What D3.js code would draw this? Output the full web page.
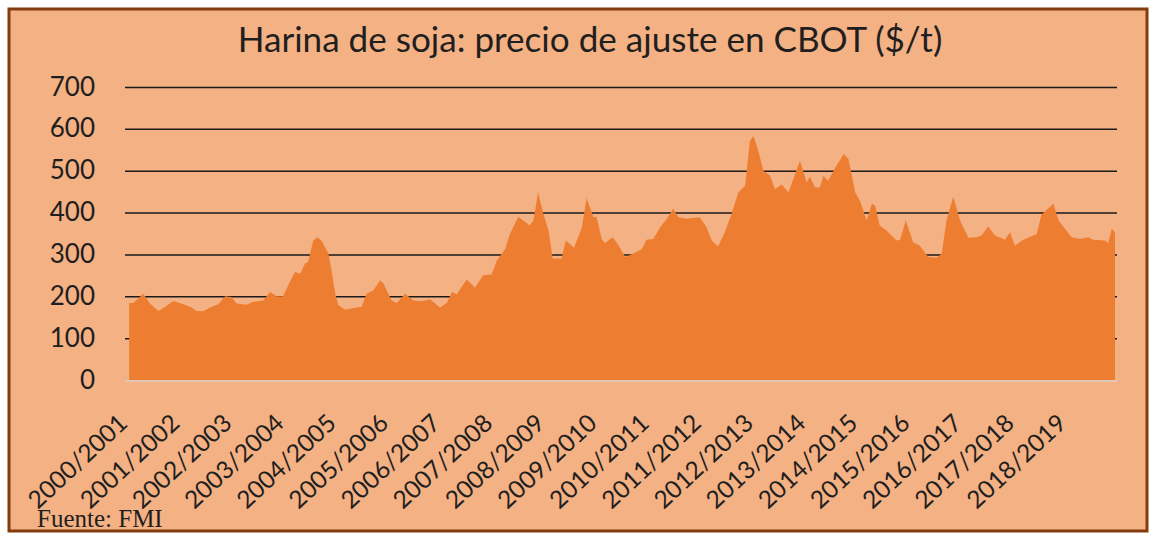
<!DOCTYPE html>
<html>
<head>
<meta charset="utf-8">
<script src="https://cdn.jsdelivr.net/npm/d3@7"></script>
<style>
  body { margin: 0; background: #ffffff; }
</style>
</head>
<body>
<div id="chart_container"></div>
<script>
// Data
var campaigns = ["2000/2001", "2001/2002", "2002/2003", "2003/2004", "2004/2005", "2005/2006",
    "2006/2007", "2007/2008", "2008/2009", "2009/2010", "2010/2011", "2011/2012", "2012/2013",
    "2013/2014", "2014/2015", "2015/2016", "2016/2017", "2017/2018", "2018/2019"];

// time in campaign-years since start of 2000/2001
var t_data = [0.08, 0.16, 0.35, 0.48, 0.64, 0.77, 0.93, 1.12, 1.28, 1.37, 1.50, 1.63, 1.79, 1.92,
    2.04, 2.14, 2.33, 2.46, 2.65, 2.78, 2.91, 3.03, 3.16, 3.26, 3.36, 3.45, 3.51, 3.61, 3.69, 3.77,
    3.90, 3.96, 4.03, 4.09, 4.22, 4.38, 4.54, 4.63, 4.76, 4.89, 4.95, 5.11, 5.21, 5.37, 5.53, 5.69,
    5.85, 6.04, 6.17, 6.27, 6.36, 6.55, 6.71, 6.87, 7.03, 7.13, 7.29, 7.38, 7.54, 7.76, 7.83, 7.92,
    8.02, 8.12, 8.20, 8.37, 8.45, 8.61, 8.76, 8.85, 8.98, 9.04, 9.14, 9.20, 9.35, 9.46, 9.59, 9.75,
    9.91, 10.00, 10.13, 10.26, 10.39, 10.51, 10.61, 10.77, 11.02, 11.15, 11.25, 11.37, 11.50, 11.63,
    11.76, 11.89, 11.98, 12.05, 12.14, 12.24, 12.37, 12.46, 12.59, 12.72, 12.94, 13.07, 13.13, 13.23,
    13.32, 13.39, 13.48, 13.64, 13.78, 13.87, 14.00, 14.09, 14.22, 14.32, 14.38, 14.47, 14.60, 14.79,
    14.86, 14.97, 15.11, 15.24, 15.40, 15.56, 15.66, 15.75, 15.88, 16.01, 16.17, 16.33, 16.42, 16.55,
    16.68, 16.87, 16.97, 17.06, 17.22, 17.48, 17.57, 17.80, 17.90, 18.15, 18.31, 18.47, 18.56, 18.79,
    18.85, 18.92, 18.98];

var price_data = [184, 184, 206, 183, 165, 175, 189, 181, 173, 165, 164, 173, 181, 200,
    198, 183, 180, 187, 190, 210, 200, 200, 234, 258, 254, 278, 282, 333, 341, 332,
    302, 262, 206, 179, 168, 172, 175, 206, 214, 238, 232, 190, 184, 206, 190, 188,
    193, 173, 184, 210, 205, 240, 221, 250, 252, 286, 313, 349, 390, 369, 381, 448,
    397, 357, 290, 290, 333, 316, 365, 435, 389, 390, 337, 327, 341, 322, 294, 302,
    313, 335, 337, 365, 385, 409, 389, 385, 389, 365, 333, 319, 353, 397,
    448, 464, 571, 583, 548, 500, 488, 456, 467, 448, 524, 472, 486, 460,
    460, 488, 476, 512, 540, 528, 448, 429, 381, 421, 417, 369, 357, 333,
    335, 381, 329, 321, 294, 292, 302, 381, 438, 381, 340, 341, 345, 367,
    345, 335, 353, 321, 335, 349, 395, 421, 381, 341, 337, 341, 335, 333,
    327, 362, 352];

var y_ticks = [0, 100, 200, 300, 400, 500, 600, 700];

var title = "Harina de soja: precio de ajuste en CBOT ($/t)";
var source = "Fuente: FMI";

// Chart dimensions
var width = 1154
var height = 533
var plot = {left: 125, right: 1116, top: 87, bottom: 380}

// Scales
var x_scale = d3.scaleLinear()
    .domain([0, campaigns.length])
    .range([plot.left, plot.right]);

var x_band = d3.scaleBand()
    .domain(campaigns)
    .range([plot.left, plot.right]);

var y_scale = d3.scaleLinear()
    .domain([0, 700])
    .range([plot.bottom, plot.top]);

var svg = d3.select("#chart_container")
    .append("svg")
    .attr("width", width)
    .attr("height", height)
    .style("display", "block")

// Background and frame
svg.append("rect")
    .attr("x", 9)
    .attr("y", 9)
    .attr("width", 1138)
    .attr("height", 522)
    .attr("fill", "#F4B183")
    .attr("stroke", "#843C0C")
    .attr("stroke-width", 3)

// Gridlines
var y_axis = d3.axisLeft(y_scale)
    .tickValues(y_ticks)
    .tickSize(-(plot.right + 1 - plot.left))
    .tickPadding(30)
    .tickFormat(d3.format("d"));

var y_g = svg.append("g")
    .attr("transform", "translate(" + plot.left + ",0)")
    .call(y_axis);

y_g.select(".domain").remove();
y_g.selectAll(".tick line")
    .attr("stroke", "#1a1a1a")
    .attr("stroke-width", 1.5)
    .filter(function(d) { return d === 0; })
    .remove();
y_g.selectAll(".tick text")
    .attr("x", -30)
    .attr("dy", "0.31em")
    .style("font-family", "Lato, sans-serif")
    .style("font-size", "26px")
    .attr("fill", "#1f1f1f");

// Area
var area = d3.area()
    .x(function(d, i) { return x_scale(t_data[i]); })
    .y0(y_scale(0))
    .y1(function(d) { return y_scale(d); });

svg.append("path")
    .datum(price_data)
    .attr("d", area)
    .attr("fill", "#ED7D31");

// X axis line
svg.append("line")
    .attr("x1", plot.left)
    .attr("x2", plot.right + 1)
    .attr("y1", y_scale(0) + 1)
    .attr("y2", y_scale(0) + 1)
    .attr("stroke", "#D9D0C8")
    .attr("stroke-width", 1.5);

// X labels
svg.append("g")
    .selectAll("text")
    .data(campaigns)
    .enter()
    .append("text")
    .attr("transform", function(d) {
        return "translate(" + (x_band(d) + 4) + ",425) rotate(-43)";
    })
    .style("text-anchor", "end")
    .style("font-family", "Lato, sans-serif")
    .style("font-size", "24.5px")
    .attr("fill", "#1f1f1f")
    .text(function(d) { return d; });

// Title
var title_el = svg.append("text")
    .attr("x", 590)
    .attr("y", 52)
    .style("text-anchor", "middle")
    .style("font-family", "Lato, sans-serif")
    .style("font-size", "28px")
    .attr("fill", "#1f1f1f")
    .text(title);

var tw = title_el.node().getComputedTextLength();
title_el.style("font-size", (28 * 705 / tw) + "px");

// Source
svg.append("text")
    .attr("x", 37)
    .attr("y", 527)
    .style("font-family", "'Liberation Serif', serif")
    .style("font-size", "25px")
    .attr("fill", "#1f1f1f")
    .text(source);
</script>
</body>
</html>
